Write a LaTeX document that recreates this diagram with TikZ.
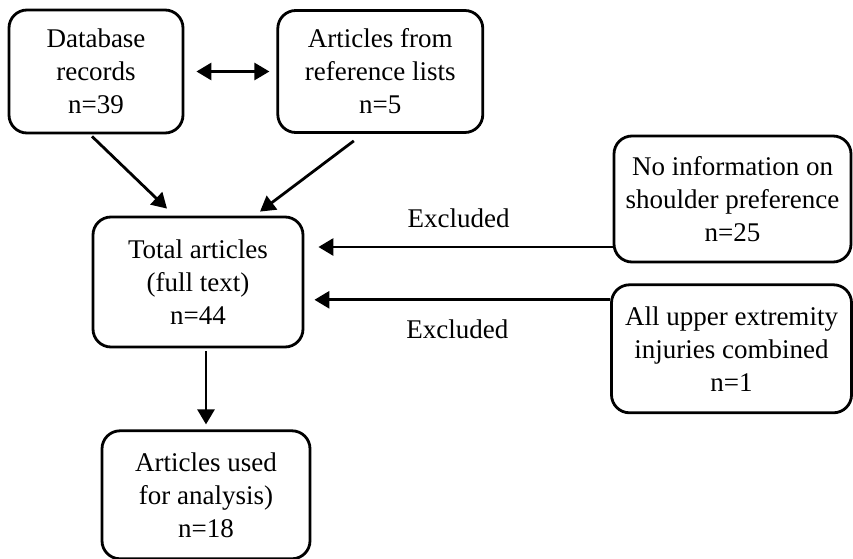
\documentclass[tikz,border=0pt]{standalone}
\usepackage{fontspec}
\setmainfont{Liberation Serif}
\usetikzlibrary{positioning,arrows.meta}

\begin{document}
\begin{tikzpicture}[x=1pt,y=1pt,
  >={Triangle[length=15pt,width=17pt]},
  box/.style={draw, line width=2.8pt, rounded corners=18pt, align=center,
    font=\fontsize{27}{33}\selectfont},
  arr/.style={line width=2.8pt, ->},
  lbl/.style={font=\fontsize{27}{33}\selectfont}]
 \useasboundingbox (0,0) rectangle (853,558);
 \node [box, minimum width=174pt, minimum height=123pt] (db) at (96,486.5) {Database\\records\\n=39};
 \node [box, right=92pt of db, minimum width=205pt, minimum height=122pt] (refs) {Articles from\\reference lists\\n=5};
 \node [box, minimum width=210pt, minimum height=130pt] (total) at (198,276) {Total articles\\(full text)\\n=44};
 \node [box, below=81pt of total, xshift=8pt, minimum width=208pt, minimum height=128pt] (used) {Articles used\\for analysis)\\n=18};
 \node [box, minimum width=237pt, minimum height=126pt] (noinfo) at (732.5,359) {No information on\\shoulder preference\\n=25};
 \node [box, below=20pt of noinfo, xshift=-1pt, minimum width=240pt, minimum height=128pt] (upper) {All upper extremity\\injuries combined\\n=1};
 \draw [arr, <->, shorten <=12pt, shorten >=7pt] (db) -- (refs);
 \draw [arr] ([xshift=-4pt,yshift=-2pt]db.south) -- ([xshift=-31pt,yshift=7pt]total.north);
 \draw [arr] ([xshift=-26.5pt,yshift=-7pt]refs.south) -- ([xshift=62pt,yshift=4pt]total.north);
 \draw [arr, shorten >=14pt] ([yshift=-48pt]noinfo.west) -- ([yshift=-48pt]noinfo.west -| total.east)
   node [lbl, midway, yshift=29pt] (excl1) {Excluded};
 \draw [arr, shorten >=10pt] ([yshift=49pt]upper.west) -- ([yshift=49pt]upper.west -| total.east)
   node [lbl, midway, yshift=-29pt] (excl2) {Excluded};
 \draw [arr, shorten <=3pt, shorten >=5pt] (used.north |- total.south) -- (used.north);
\end{tikzpicture}
\end{document}
